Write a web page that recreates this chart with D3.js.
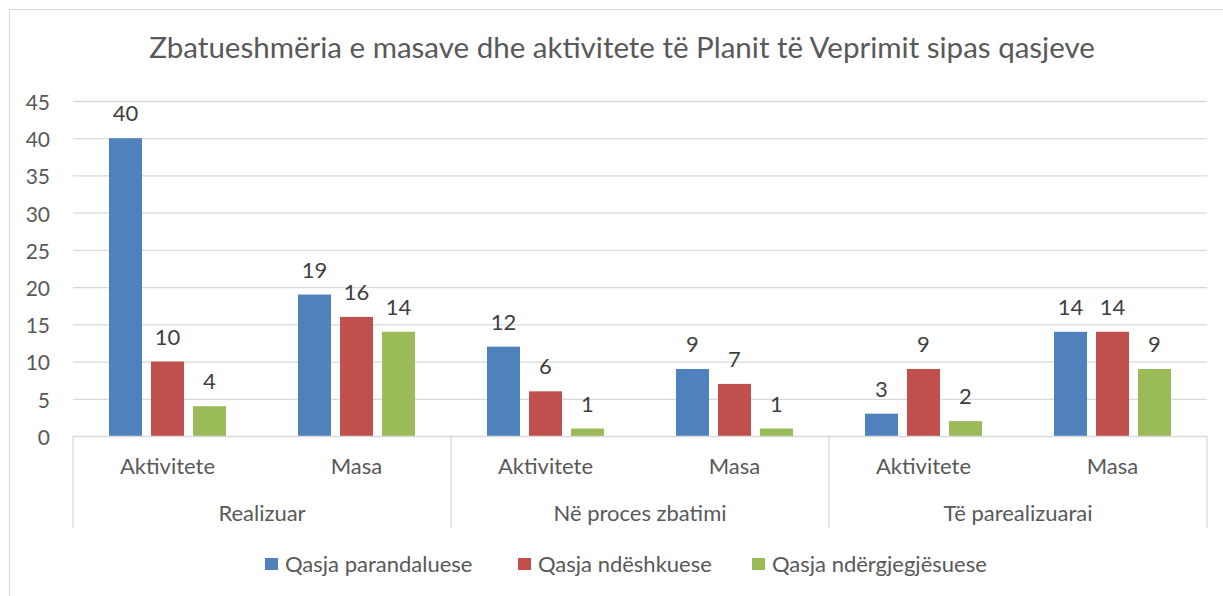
<!DOCTYPE html>
<html><head><meta charset="utf-8">
<script src="https://cdn.jsdelivr.net/npm/d3@7"></script>
<style>body{margin:0;background:#fff}svg{display:block}text{font-family:Lato,"Open Sans",sans-serif}</style>
</head><body><svg id="c" width="1223" height="596"></svg>
<script>
const title = "Zbatueshmëria e masave dhe aktivitete të Planit të Veprimit sipas qasjeve";
const groups = ["Realizuar", "Në proces zbatimi", "Të parealizuarai"];
const subcats = ["Aktivitete", "Masa"];
const seriesNames = ["Qasja parandaluese", "Qasja ndëshkuese", "Qasja ndërgjegjësuese"];
const seriesColors = ["#4f81bd", "#c0504d", "#9bbb59"];
const parandaluese = [40, 19, 12, 9, 3, 14];
const ndeshkuese = [10, 16, 6, 7, 9, 14];
const ndergjegjesuese = [4, 14, 1, 1, 2, 9];
const yTicks = [0, 5, 10, 15, 20, 25, 30, 35, 40, 45];

const seriesValues = [parandaluese, ndeshkuese, ndergjegjesuese];
const cats = [];
groups.forEach((g, gi) => subcats.forEach((s, si) => cats.push({key: gi + "-" + si, group: g, sub: s, idx: cats.length})));

const svg = d3.select("#c");
const L = 73, R = 1207, T = 101, B = 436;
const grid = "#d9d9d9", tickCol = "#595959", lblCol = "#404040";
const FS = 22;

svg.append("rect").attr("x", 9.5).attr("y", 9.5).attr("width", 1260).attr("height", 640)
  .attr("fill", "none").attr("stroke", grid);

svg.append("text").attr("x", 622).attr("y", 58).attr("text-anchor", "middle")
  .attr("font-size", 29.5).attr("fill", tickCol).text(title);

const y = d3.scaleLinear().domain([0, 45]).range([B, T]);
const x0 = d3.scaleBand().domain(cats.map(c => c.key)).range([L, R]).padding(0);
const x1 = d3.scaleBand().domain(seriesNames).range([0, x0.bandwidth()]).paddingInner(0.214).paddingOuter(0.857);

// gridlines
svg.append("g").selectAll("line").data(yTicks.filter(t => t > 0)).join("line")
  .attr("x1", L).attr("x2", R).attr("y1", d => y(d) + 0.5).attr("y2", d => y(d) + 0.5)
  .attr("stroke", grid).attr("stroke-width", 1.3);

// y axis labels
const ya = svg.append("g").attr("transform", `translate(${L},0)`)
  .call(d3.axisLeft(y).tickValues(yTicks).tickSize(0).tickPadding(23));
ya.select(".domain").remove();
ya.selectAll("text").attr("font-size", FS - 1).attr("fill", tickCol).attr("dy", "0.4em")
  .attr("font-family", "Lato,'Open Sans',sans-serif");

// bars
const gBars = svg.append("g");
seriesNames.forEach((s, si) => {
  const data = cats.map(c => ({c, v: seriesValues[si][c.idx]}));
  gBars.append("g").selectAll("rect").data(data).join("rect")
    .attr("x", d => x0(d.c.key) + x1(s)).attr("width", x1.bandwidth())
    .attr("y", d => y(d.v)).attr("height", d => y(0) - y(d.v))
    .attr("fill", seriesColors[si]);
  gBars.append("g").selectAll("text").data(data).join("text")
    .attr("x", d => x0(d.c.key) + x1(s) + x1.bandwidth() / 2)
    .attr("y", d => y(d.v) - 17).attr("text-anchor", "middle")
    .attr("font-size", FS).attr("fill", lblCol).text(d => d.v);
});

// x axis line
svg.append("line").attr("x1", L).attr("x2", R).attr("y1", B + 0.5).attr("y2", B + 0.5)
  .attr("stroke", grid).attr("stroke-width", 1.3);

// group separators
const gw = (R - L) / groups.length;
const seps = d3.range(groups.length + 1).map(i => L + i * gw);
svg.append("g").selectAll("line").data(seps).join("line")
  .attr("x1", d => d).attr("x2", d => d).attr("y1", B).attr("y2", 528)
  .attr("stroke", grid).attr("stroke-width", 1.3);

// subcategory labels
svg.append("g").selectAll("text").data(cats).join("text")
  .attr("x", c => x0(c.key) + x0.bandwidth() / 2).attr("y", 474)
  .attr("text-anchor", "middle").attr("font-size", FS).attr("fill", tickCol).text(c => c.sub);

// group labels
svg.append("g").selectAll("text").data(groups).join("text")
  .attr("x", (g, i) => L + (i + 0.5) * gw).attr("y", 521)
  .attr("text-anchor", "middle").attr("font-size", FS).attr("fill", tickCol).text(g => g);

// legend
const legX = [265, 518, 752];
const lg = svg.append("g").selectAll("g").data(seriesNames).join("g")
  .attr("transform", (d, i) => `translate(${legX[i]},558)`);
lg.append("rect").attr("width", 13).attr("height", 12).attr("fill", (d, i) => seriesColors[i]);
lg.append("text").attr("x", 20).attr("y", 14).attr("font-size", FS).attr("fill", tickCol).text(d => d);
</script></body></html>
